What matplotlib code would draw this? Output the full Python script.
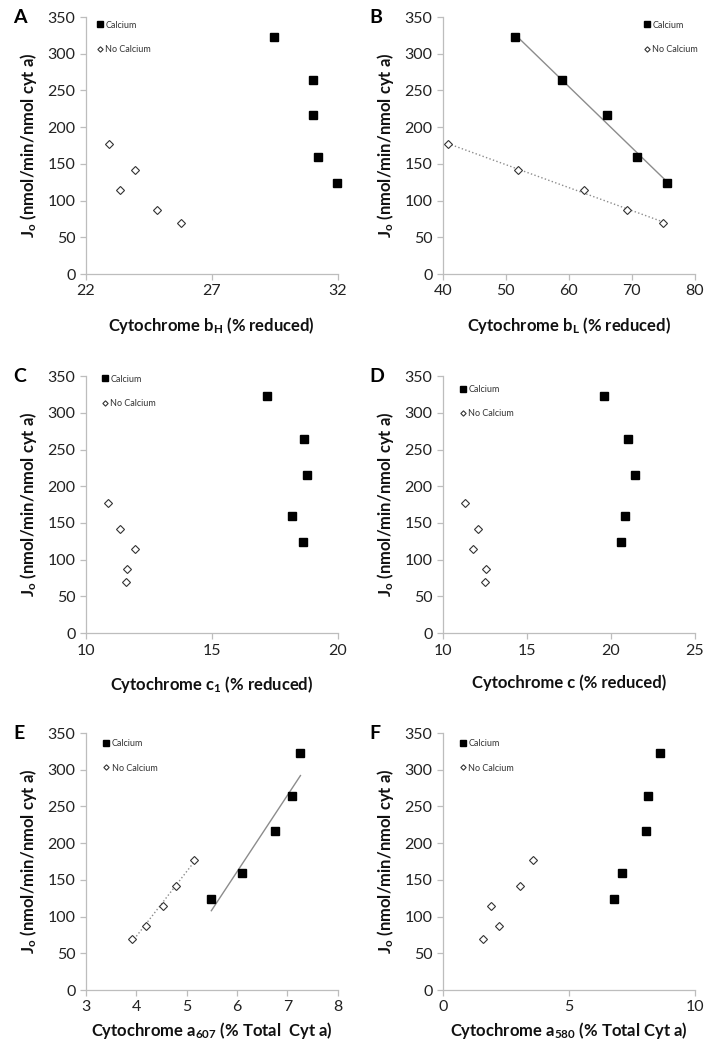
import numpy as np
import matplotlib
matplotlib.use("Agg")
import matplotlib.pyplot as plt

plt.rcParams['font.family'] = ['Lato', 'DejaVu Sans']
plt.rcParams['mathtext.fontset'] = 'custom'
plt.rcParams['mathtext.rm'] = 'Lato'
plt.rcParams['mathtext.bf'] = 'Lato:bold'

# Jo values (nmol/min/nmol cyt a), shared by all panels
jo_calcium = [323, 264, 216, 159, 124]
jo_no_calcium = [177, 142, 115, 87, 70]

# x values per panel
bH_calcium = [29.47, 31.03, 31.00, 31.20, 31.97]
bH_no_calcium = [22.90, 23.94, 23.37, 24.82, 25.76]
bL_calcium = [51.5, 58.9, 66.1, 70.9, 75.6]
bL_no_calcium = [40.8, 51.9, 62.4, 69.2, 75.0]
c1_calcium = [17.18, 18.68, 18.80, 18.20, 18.64]
c1_no_calcium = [10.86, 11.36, 11.96, 11.64, 11.60]
c_calcium = [19.60, 21.03, 21.43, 20.83, 20.60]
c_no_calcium = [11.33, 12.08, 11.81, 12.56, 12.50]
a607_calcium = [7.26, 7.09, 6.76, 6.10, 5.49]
a607_no_calcium = [5.14, 4.78, 4.53, 4.19, 3.91]
a580_calcium = [8.62, 8.17, 8.08, 7.13, 6.80]
a580_no_calcium = [3.57, 3.06, 1.90, 2.24, 1.61]

panels = [
    ('A', bH_calcium, bH_no_calcium, (22, 32), [22, 27, 32],
     r'Cytochrome b$\mathbf{_H}$ (% reduced)', False, (0.03, 1.0)),
    ('B', bL_calcium, bL_no_calcium, (40, 80), [40, 50, 60, 70, 80],
     r'Cytochrome b$\mathbf{_L}$ (% reduced)', True, (0.785, 1.0)),
    ('C', c1_calcium, c1_no_calcium, (10, 20), [10, 15, 20],
     r'Cytochrome c$\mathbf{_1}$ (% reduced)', False, (0.05, 1.02)),
    ('D', c_calcium, c_no_calcium, (10, 25), [10, 15, 20, 25],
     'Cytochrome c (% reduced)', False, (0.055, 0.98)),
    ('E', a607_calcium, a607_no_calcium, (3, 8), [3, 4, 5, 6, 7, 8],
     r'Cytochrome a$\mathbf{_{607}}$ (% Total  Cyt a)', True, (0.055, 0.99)),
    ('F', a580_calcium, a580_no_calcium, (0, 10), [0, 5, 10],
     r'Cytochrome a$\mathbf{_{580}}$ (% Total Cyt a)', False, (0.055, 0.99)),
]

fig = plt.figure(figsize=(7.12, 10.5), dpi=100)
lefts = [0.1208, 0.622]
bottoms = [0.739, 0.397, 0.0571]
w, h = 0.3535, 0.2448
axis_gray = '#bdbdbd'

for i, (letter, xc, xn, xlim, xticks, xlabel, trend, leg_pos) in enumerate(panels):
    ax = fig.add_axes([lefts[i % 2], bottoms[i // 2], w, h])
    ax.plot(xc, jo_calcium, 's', color='black', markersize=5.5, label='Calcium',
            zorder=3, clip_on=False)
    ax.plot(xn, jo_no_calcium, 'D', markerfacecolor='white', markeredgecolor='#333333',
            markeredgewidth=0.8, markersize=3.6, label='No Calcium', zorder=3,
            clip_on=False)
    if trend:
        for xs, ys, ls in [(xc, jo_calcium, '-'), (xn, jo_no_calcium, ':')]:
            k, b = np.polyfit(xs, ys, 1)
            xx = np.array([min(xs), max(xs)])
            ax.plot(xx, k * xx + b, ls, color='#8c8c8c', linewidth=1.0, zorder=2)

    ax.set_xlim(xlim)
    ax.set_ylim(0, 350)
    ax.set_xticks(xticks)
    ax.set_yticks(range(0, 351, 50))
    for s in ['top', 'right']:
        ax.spines[s].set_visible(False)
    for s in ['left', 'bottom']:
        ax.spines[s].set_color(axis_gray)
        ax.spines[s].set_linewidth(0.9)
    ax.tick_params(colors=axis_gray, labelcolor='#222222', labelsize=11.5,
                   length=4, width=0.9, direction='out')
    pad = 12 if i < 4 else 4
    ax.set_xlabel(xlabel, fontsize=12, fontweight='bold', labelpad=pad, color='#111111')
    ax.set_ylabel(r'J$\mathbf{_o}$ (nmol/min/nmol cyt a)', fontsize=12,
                  fontweight='bold', labelpad=6, color='#111111')
    ax.text(-0.29, 1.0, letter, transform=ax.transAxes, fontsize=14,
            fontweight='bold', va='center', ha='left')
    leg = ax.legend(loc='upper left', bbox_to_anchor=leg_pos, frameon=False,
                    fontsize=6.5, handlelength=0.6, handletextpad=0.3,
                    labelspacing=1.7, borderaxespad=0, markerscale=0.75)
    for t in leg.get_texts():
        t.set_color('#333333')

fig.savefig('out.png', dpi=100)
